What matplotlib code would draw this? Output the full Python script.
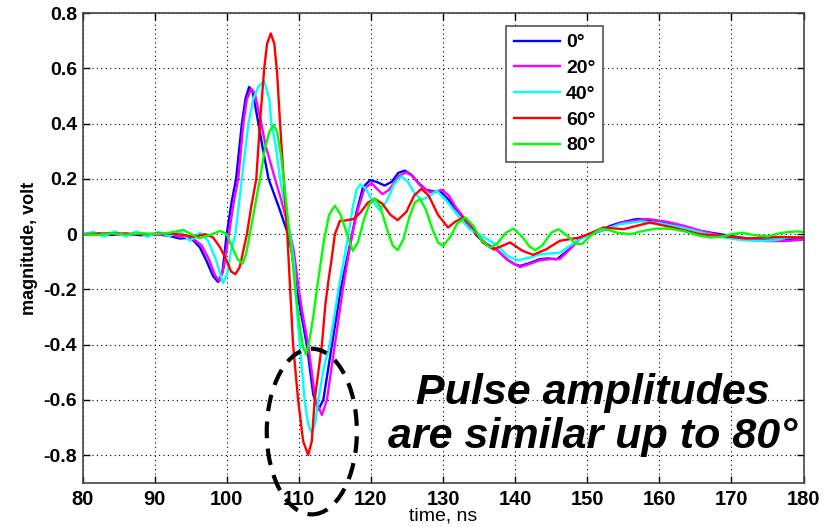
import matplotlib
matplotlib.use("Agg")
import matplotlib.pyplot as plt
from matplotlib.patches import Ellipse
import numpy as np

plt.rcParams['font.family'] = ['Liberation Sans', 'DejaVu Sans']
plt.rcParams['axes.unicode_minus'] = False

# pulses: time (ns), magnitude (volt)
t_0 = [80, 82, 84, 86, 88, 90, 92, 93.5, 95, 96.3, 97.2, 98.1, 98.8, 99.4, 100, 100.7,
       101.3, 102.1, 102.6, 103.1, 103.6, 104.4, 105, 105.8, 106.5, 107.2, 108.5, 109.0,
       109.7, 110.4, 111.1, 112.0, 112.7, 113.4, 114.0, 114.6, 115.8, 116.6, 117.4, 118.0,
       118.9, 119.9, 120.9, 121.9, 122.9, 123.8, 124.7, 125.6, 126.6, 127.7, 128.7, 129.6,
       130.6, 131.5, 132.4, 133.5, 134.7, 136, 137.4, 138.8, 140, 140.7, 142, 143.4, 144.6,
       145.8, 147.5, 149, 150.4, 151.8, 153.2, 154.6, 156.9, 159.6, 162.9, 165.6, 168.4,
       171.2, 173.9, 176.7, 180]
v_0 = [0, 0.003, -0.003, 0.002, -0.004, 0.0, -0.006, -0.016, -0.012, -0.049, -0.097, -0.152,
       -0.173, -0.14, 0.0, 0.12, 0.2, 0.4, 0.49, 0.533, 0.515, 0.4, 0.31, 0.2, 0.15, 0.1, 0.0,
       -0.06, -0.2, -0.3, -0.4, -0.58, -0.636, -0.6, -0.5, -0.4, -0.2, -0.1, 0.0, 0.08, 0.17,
       0.196, 0.188, 0.176, 0.19, 0.222, 0.23, 0.215, 0.185, 0.16, 0.155, 0.155, 0.13, 0.1,
       0.073, 0.035, -0.006, -0.035, -0.055, -0.09, -0.11, -0.115, -0.105, -0.091, -0.088,
       -0.091, -0.055, -0.012, 0.0, 0.012, 0.03, 0.042, 0.055, 0.048, 0.03, 0.012, 0.0,
       -0.012, -0.02, -0.02, -0.015]

t_20 = [80, 82, 84, 86, 88, 90, 92, 93.5, 95, 96.5, 97.5, 98.4, 99.0, 99.6, 100.3, 101.0,
        101.6, 102.3, 102.8, 103.4, 103.9, 104.8, 105.4, 106.7, 107.6, 108.8, 109.3, 110.0,
        110.6, 111.3, 112.3, 113.2, 113.9, 115.0, 116.1, 116.6, 117.4, 118.2, 119.1, 120.1,
        120.8, 121.6, 122.5, 123.9, 124.9, 125.8, 126.9, 128.2, 129.9, 130.8, 131.7, 132.6,
        133.7, 135, 136.2, 137.6, 139, 140.7, 142, 143.4, 145, 146.2, 147.6, 149.2, 152,
        154.8, 158.4, 161, 163.5, 166, 168.5, 171.5, 174.5, 177.5, 180]
v_20 = [0, -0.003, 0.004, -0.003, 0.003, -0.004, 0.002, -0.01, -0.01, -0.04, -0.09, -0.15,
        -0.17, -0.12, 0.0, 0.12, 0.2, 0.4, 0.49, 0.527, 0.51, 0.4, 0.32, 0.2, 0.12, 0.0,
        -0.06, -0.2, -0.3, -0.4, -0.6, -0.655, -0.6, -0.4, -0.2, -0.12, 0.0, 0.09, 0.165,
        0.185, 0.165, 0.145, 0.16, 0.21, 0.224, 0.21, 0.175, 0.151, 0.16, 0.14, 0.1, 0.07,
        0.03, -0.01, -0.04, -0.06, -0.095, -0.119, -0.108, -0.095, -0.09, -0.09, -0.055,
        -0.012, 0.012, 0.042, 0.055, 0.045, 0.03, 0.01, -0.005, -0.015, -0.025, -0.025, -0.02]

t_40 = [80, 81.5, 83, 84.5, 86, 87.5, 89, 90.5, 92, 93.5, 94.9, 96.3, 97.4, 98.4, 99.1, 99.5,
        100.1, 100.6, 101.2, 102.1, 103.0, 103.7, 104.4, 105.2, 105.9, 106.2, 106.8, 107.4,
        108.1, 108.8, 109.3, 109.8, 110.3, 110.8, 111.3, 111.8, 112.3, 112.7, 113.5, 114.3,
        115.5, 116.2, 116.9, 117.5, 118.0, 118.5, 119.3, 120.2, 121.2, 122.2, 123.2, 124.2,
        125.1, 126, 127.0, 128, 129.1, 130.2, 131.4, 132.6, 133.7, 136.1, 137.5, 139, 140.4,
        142, 143.4, 146.2, 149, 151, 154.6, 157.4, 160, 163, 166, 168.5, 171, 173.5, 176,
        178, 180]
v_40 = [0, 0.008, -0.008, 0.01, -0.008, 0.01, -0.01, 0.008, -0.008, 0.01, -0.024, 0.006,
        -0.024, -0.085, -0.145, -0.178, -0.14, -0.06, 0.0, 0.2, 0.4, 0.49, 0.535, 0.554,
        0.49, 0.4, 0.32, 0.2, 0.1, 0.0, -0.1, -0.3, -0.45, -0.6, -0.69, -0.721, -0.68, -0.6,
        -0.48, -0.4, -0.2, -0.1, 0.0, 0.1, 0.16, 0.18, 0.165, 0.12, 0.087, 0.12, 0.18, 0.21,
        0.19, 0.15, 0.124, 0.135, 0.157, 0.13, 0.09, 0.05, 0.018, -0.018, -0.04, -0.08,
        -0.095, -0.085, -0.073, -0.067, -0.018, 0.005, 0.036, 0.046, 0.04, 0.025, 0.005,
        -0.01, -0.02, -0.025, -0.022, -0.012, -0.01]

t_60 = [80, 84, 88, 92, 94, 95.5, 97, 98.1, 99.1, 100, 100.6, 101.2, 101.8, 102.3, 102.8,
        103.4, 104.1, 104.6, 105.2, 105.6, 106.1, 106.6, 107.0, 107.4, 107.9, 108.4, 108.8,
        109.2, 109.9, 110.6, 111.3, 111.8, 112.2, 112.7, 113.2, 113.7, 114.1, 114.6, 115.0,
        115.7, 116.6, 117.6, 118.6, 119.6, 120.6, 121.6, 122.7, 123.7, 124.9, 126, 127.0,
        128, 129.3, 130.7, 131.7, 132.8, 134, 135.5, 137, 138, 139.3, 141, 142.5, 144.3,
        146.2, 149, 150.6, 152.2, 155, 158.7, 161.9, 165.6, 168.4, 172.1, 175.8, 180]
v_60 = [0, 0.003, 0, 0.003, -0.003, -0.01, 0.0, -0.012, -0.049, -0.097, -0.135, -0.145,
        -0.12, -0.06, 0.0, 0.1, 0.2, 0.4, 0.6, 0.69, 0.727, 0.69, 0.58, 0.4, 0.2, 0.0, -0.2,
        -0.4, -0.6, -0.75, -0.8, -0.75, -0.6, -0.5, -0.4, -0.25, -0.17, -0.08, 0.0, 0.048,
        0.05, 0.055, 0.08, 0.115, 0.127, 0.11, 0.07, 0.051, 0.08, 0.14, 0.164, 0.14, 0.07,
        0.024, 0.045, 0.06, 0.03, -0.03, -0.055, -0.045, -0.03, -0.06, -0.075, -0.055,
        -0.024, -0.012, 0.005, 0.024, 0.018, 0.042, 0.024, 0.0, -0.006, -0.016, -0.01, -0.012]

t_80 = [80, 82, 84, 86, 88, 90, 92, 94, 96.1, 97.5, 99.1, 100, 100.8, 101.5, 102.2, 102.7,
        103.2, 103.9, 104.6, 105.3, 105.9, 106.5, 107.0, 107.5, 107.9, 108.3, 108.7, 109.0,
        109.5, 110.2, 110.6, 111.0, 111.5, 112.0, 112.5, 113.0, 113.5, 114.2, 115.0, 115.8,
        116.7, 117.5, 118.2, 119.0, 119.8, 120.5, 121.3, 122.2, 123.0, 123.7, 124.5, 125.3,
        126.1, 126.8, 127.6, 128.5, 129.3, 130.0, 131.0, 132.0, 133.1, 134.2, 135.3, 136.5,
        137.5, 138.7, 139.8, 141, 142, 142.8, 143.8, 145, 146.0, 147.2, 148.4, 149.3, 150.5,
        151.9, 153, 154.2, 156, 157.5, 159.5, 161.5, 163.5, 165.5, 167, 168.5, 170, 171.5,
        173, 175, 177, 179, 180]
v_80 = [0, -0.003, 0.003, -0.002, 0.003, 0.0, 0.005, 0.015, -0.015, -0.005, 0.012, 0.0,
        -0.05, -0.09, -0.107, -0.07, 0.0, 0.1, 0.2, 0.31, 0.37, 0.394, 0.37, 0.29, 0.2, 0.1,
        0.0, -0.06, -0.2, -0.35, -0.41, -0.436, -0.38, -0.3, -0.2, -0.11, -0.02, 0.07, 0.103,
        0.07, 0.0, -0.061, -0.03, 0.05, 0.11, 0.13, 0.1, 0.02, -0.04, -0.058, -0.02, 0.06,
        0.115, 0.127, 0.09, 0.02, -0.03, -0.043, -0.01, 0.04, 0.06, 0.03, -0.02, -0.049,
        -0.035, 0.005, 0.02, -0.01, -0.045, -0.058, -0.04, 0.005, 0.018, -0.005, -0.035,
        -0.035, -0.005, 0.02, 0.015, 0.005, 0.0, 0.01, 0.02, 0.02, 0.01, -0.005, -0.012,
        -0.01, 0.0, 0.005, -0.003, -0.008, 0.005, 0.01, 0.008]

labels = ['0°', '20°', '40°', '60°', '80°']
colors = ['#0000ff', '#ff00ff', '#00ffff', '#ff0000', '#00ff00']
series = [(t_0, v_0), (t_20, v_20), (t_40, v_40), (t_60, v_60), (t_80, v_80)]

xticks = np.arange(80, 181, 10)
yticks = [0.8, 0.6, 0.4, 0.2, 0, -0.2, -0.4, -0.6, -0.8]
ytick_labels = ['0.8', '0.6', '0.4', '0.2', '0', '-0.2', '-0.4', '-0.6', '-0.8']

fig = plt.figure(figsize=(8.27, 5.27), dpi=100)
ax = fig.add_axes([0.0998, 0.0842, 0.8718, 0.8906])

for (t, v), c, lab in zip(series, colors, labels):
    ax.plot(t, v, color=c, lw=1.7, label=lab)

ax.set_xlim(80, 180)
ax.set_ylim(-0.9, 0.8)
ax.set_xticks(xticks)
ax.set_xticklabels([str(x) for x in xticks], fontsize=14.5, fontweight='bold')
ax.set_yticks(yticks)
ax.set_yticklabels(ytick_labels, fontsize=14, fontweight='bold')
ax.tick_params(direction='in', top=True, right=True, length=5, width=1, pad=4)
ax.tick_params(axis='x', pad=5)
ax.grid(True, color='black', linestyle=(0, (1, 3)), lw=0.8)
for s in ax.spines.values():
    s.set_color('#444444')
    s.set_linewidth(1.2)

ax.set_xlabel('time, ns', fontsize=14, labelpad=-1)
ax.set_ylabel('magnitude, volt', fontsize=13, fontweight='bold', labelpad=4)

leg = ax.legend(loc='upper left', bbox_to_anchor=(0.587, 0.973),
                prop={'weight': 'bold', 'size': 14}, fancybox=False, framealpha=1,
                edgecolor='#555555', handlelength=2.4, handletextpad=0.3,
                labelspacing=0.42, borderpad=0.4, borderaxespad=0)
leg.get_frame().set_linewidth(1.2)

ell = Ellipse((111.8, -0.715), 12.5, 0.6, fill=False, edgecolor='black', lw=3,
              linestyle=(0, (4, 2.5)), clip_on=False, zorder=5)
ax.add_patch(ell)

ax.text(150.8, -0.655, 'Pulse amplitudes\nare similar up to 80°', fontsize=31,
        fontweight='bold', fontstyle='italic', ha='center', va='center',
        multialignment='center', linespacing=1.15, zorder=6)

fig.savefig('out.png', dpi=100)
